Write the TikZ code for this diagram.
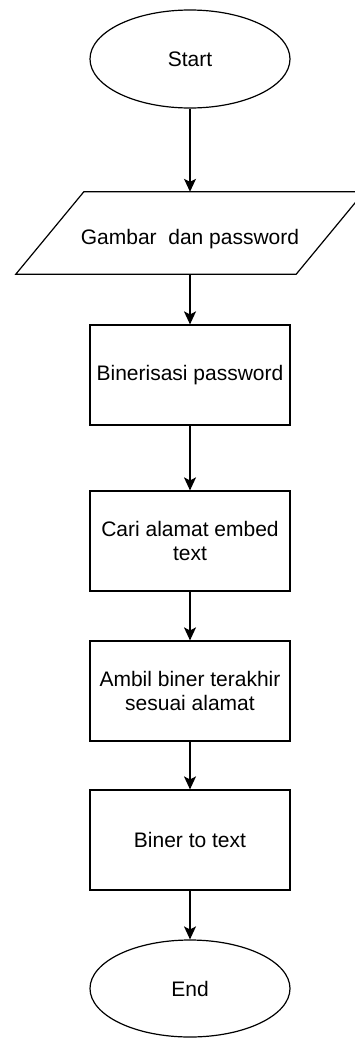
\documentclass[tikz,border=0pt]{standalone}
\usepackage{fontspec}
\setmainfont{Liberation Sans}
\usetikzlibrary{shapes.geometric,arrows.meta,calc}
\begin{document}
\begin{tikzpicture}[x=1pt,y=1pt,
  every node/.style={font=\fontsize{21}{24}\selectfont, text=black},
  terminal/.style={draw, ellipse, line width=1.2pt, minimum width=200pt, minimum height=98pt, inner sep=0pt},
  procbox/.style={draw, rectangle, line width=1.2pt, minimum width=200pt, minimum height=100pt, align=center, inner sep=0pt},
  ioarea/.style={rectangle, minimum width=280pt, minimum height=82pt, inner sep=0pt},
  ioline/.style={line width=1.2pt, line join=miter},
  flow/.style={line width=1.2pt, -{Stealth[length=13pt,width=12pt,inset=3pt]}}
]
\useasboundingbox (0,0) rectangle (355,-1039);
\node[terminal] (start) at (190,-59) {Start};
\node[ioarea] (gambar) at (190,-233) {};
\draw[ioline] ($(gambar.north west)+(34,0)$) -- ($(gambar.north east)+(34,0)$)
  -- ($(gambar.south east)+(-34,0)$) -- ($(gambar.south west)+(-34,0)$) -- cycle;
\node (gambartext) at ([yshift=-6pt]gambar.center) {Gambar\ \ dan password};
\node[procbox] (biner) at (190,-375) {Binerisasi password};
\node[procbox] (cari) at (190,-541) {Cari alamat embed\\text};
\node[procbox] (ambil) at (190,-691) {Ambil biner terakhir\\sesuai alamat};
\node[procbox] (totext) at (190,-840) {Biner to text};
\node[terminal, minimum height=97pt] (end) at (190,-988.5) {End};
\draw[flow] (start.south) -- (gambar.north);
\draw[flow] (gambar.south) -- (biner.north);
\draw[flow] (biner.south) -- (cari.north);
\draw[flow] (cari.south) -- (ambil.north);
\draw[flow] (ambil.south) -- (totext.north);
\draw[flow] (totext.south) -- (end.north);
\end{tikzpicture}
\end{document}
